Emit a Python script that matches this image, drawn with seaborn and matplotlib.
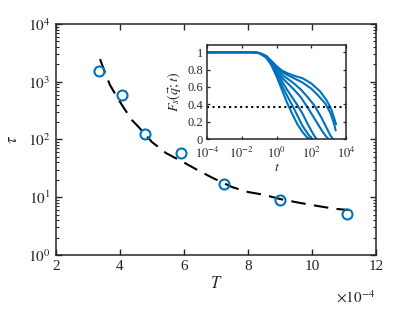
import numpy as np
import matplotlib
matplotlib.use('Agg')
import matplotlib.pyplot as plt
import seaborn as sns
import pandas as pd

# main panel: relaxation time vs temperature
T_data = [3.34, 4.06, 4.78, 5.9, 7.25, 9.0, 11.1]
tau_data = [1550, 590, 124, 58, 17, 9.0, 5.1]

# fit curve
T_fit = [3.375, 3.56, 3.69, 3.9, 4.1, 4.37, 4.6, 5.0, 5.44, 6.03, 6.4, 6.9,
         7.5, 8.0, 8.5, 9.0, 9.6, 10.2, 10.7, 11.15]
tau_fit = [2470, 1310, 870, 550, 365, 218, 160, 90, 58, 39, 30, 21.5,
           15, 12.3, 11, 9.3, 8, 7, 6.3, 6.0]

# inset: self intermediate scattering function, log10(t) and F_s
logt_1 = [-4, -1.5, -1, -0.6, -0.3, 0, 0.3, 0.6, 0.9, 1.2, 1.5, 1.75, 1.95]
Fs_1 = [1, 1, 0.99, 0.94, 0.85, 0.72, 0.57, 0.42, 0.29, 0.17, 0.08, 0.02, 0]
logt_2 = [-4, -1.5, -1, -0.6, -0.3, 0, 0.3, 0.6, 0.9, 1.2, 1.5, 1.8, 2.05]
Fs_2 = [1, 1, 0.99, 0.94, 0.86, 0.75, 0.62, 0.5, 0.39, 0.27, 0.15, 0.06, 0]
logt_3 = [-4, -1.5, -1, -0.6, -0.3, 0, 0.3, 0.6, 0.9, 1.2, 1.5, 1.8, 2.1, 2.3]
Fs_3 = [1, 1, 0.99, 0.95, 0.87, 0.77, 0.67, 0.57, 0.48, 0.39, 0.29, 0.17, 0.06, 0]
logt_4 = [-4, -1.5, -1, -0.6, -0.3, 0, 0.3, 0.6, 1.0, 1.4, 1.8, 2.2, 2.6, 2.85, 3.0]
Fs_4 = [1, 1, 0.99, 0.95, 0.88, 0.79, 0.71, 0.65, 0.57, 0.48, 0.36, 0.23, 0.1, 0.03, 0]
logt_5 = [-4, -1.5, -1, -0.6, -0.3, 0, 0.3, 0.6, 1.0, 1.4, 1.8, 2.2, 2.6, 2.9, 3.1, 3.25]
Fs_5 = [1, 1, 0.99, 0.95, 0.89, 0.81, 0.74, 0.7, 0.64, 0.57, 0.48, 0.38, 0.24, 0.12, 0.04, 0]
logt_6 = [-4, -1.5, -1, -0.6, -0.3, 0, 0.3, 0.6, 1.0, 1.5, 2.0, 2.4, 2.8, 3.1, 3.3, 3.4]
Fs_6 = [1, 1, 0.99, 0.95, 0.89, 0.82, 0.77, 0.74, 0.7, 0.65, 0.58, 0.5, 0.41, 0.3, 0.18, 0.1]
logt_7 = [-4, -1.5, -1, -0.6, -0.3, 0, 0.3, 0.6, 1.0, 1.5, 2.0, 2.5, 2.9, 3.15, 3.3, 3.42]
Fs_7 = [1, 1, 0.99, 0.96, 0.9, 0.84, 0.79, 0.76, 0.73, 0.7, 0.64, 0.55, 0.44, 0.34, 0.25, 0.17]

LOGT = [logt_1, logt_2, logt_3, logt_4, logt_5, logt_6, logt_7]
FS = [Fs_1, Fs_2, Fs_3, Fs_4, Fs_5, Fs_6, Fs_7]

BLUE = '#0072BD'
DARK = '#262626'

sns.set_style('ticks')
plt.rcParams['font.family'] = ['Liberation Serif', 'DejaVu Serif']
plt.rcParams['mathtext.fontset'] = 'stix'
plt.rcParams['xtick.direction'] = 'in'
plt.rcParams['ytick.direction'] = 'in'
plt.rcParams['axes.edgecolor'] = DARK
plt.rcParams['xtick.color'] = DARK
plt.rcParams['ytick.color'] = DARK
plt.rcParams['axes.linewidth'] = 1.1

fig = plt.figure(figsize=(4.15, 3.12), dpi=100)
ax = fig.add_axes([0.135, 0.183, 0.771, 0.740])

fit_df = pd.DataFrame({'T': T_fit, 'tau': tau_fit})
sns.lineplot(data=fit_df, x='T', y='tau', ax=ax, color='black', lw=1.5,
             linestyle=(0, (7, 4)), estimator=None, sort=False)
ax.plot(T_data, tau_data, 'o', ms=7.2, mfc='none', mec=BLUE, mew=1.5)

ax.set_yscale('log')
ax.set_xlim(2, 12)
ax.set_ylim(1, 1e4)
ax.set_xticks([2, 4, 6, 8, 10, 12])
ax.set_xticklabels(['2', '4', '6', '8', '10', '12'])
ax.set_yticks([1, 10, 100, 1000, 10000])
ax.set_yticklabels([r'$10^{%d}$' % k for k in range(5)])
ax.tick_params(which='both', top=True, right=True, labelsize=11, pad=4)
ax.tick_params(which='major', length=4, width=1)
ax.tick_params(which='minor', length=2.2, width=0.8)
ax.tick_params(axis='x', which='minor', top=False, bottom=False)
ax.set_xlabel(r'$T$', fontsize=12, labelpad=2)
ax.set_ylabel(r'$\tau$', fontsize=12, labelpad=5)
fig.text(0.906, 0.02, r'$\times 10^{-4}$', ha='right', va='bottom', fontsize=11,
         color=DARK)

# inset
axi = fig.add_axes([0.499, 0.554, 0.335, 0.301])
for lt, fs in zip(LOGT, FS):
    d = pd.DataFrame({'t': 10.0 ** np.array(lt), 'F': fs})
    sns.lineplot(data=d, x='t', y='F', ax=axi, color=BLUE, lw=1.5,
                 estimator=None, sort=False)
axi.axhline(np.exp(-1), color='black', ls=':', lw=1.5)
axi.set_xscale('log')
axi.set_xlim(1e-4, 1e4)
axi.set_ylim(0, 1.08)
axi.set_xticks([1e-4, 1e-2, 1, 1e2, 1e4])
axi.set_xticklabels([r'$10^{-4}$', r'$10^{-2}$', r'$10^{0}$', r'$10^{2}$', r'$10^{4}$'])
axi.minorticks_off()
axi.set_yticks([0, 0.2, 0.4, 0.6, 0.8, 1])
axi.set_yticklabels(['0', '0.2', '0.4', '0.6', '0.8', '1'])
axi.tick_params(which='both', top=True, right=True, labelsize=9, pad=3,
                length=2.5, width=0.9)
axi.tick_params(axis='x', pad=5)
axi.set_xlabel(r'$t$', fontsize=10, labelpad=0)
axi.set_ylabel(r'$F_s(\vec{q};t)$', fontsize=10, labelpad=3)

fig.savefig('out.png', dpi=100)
